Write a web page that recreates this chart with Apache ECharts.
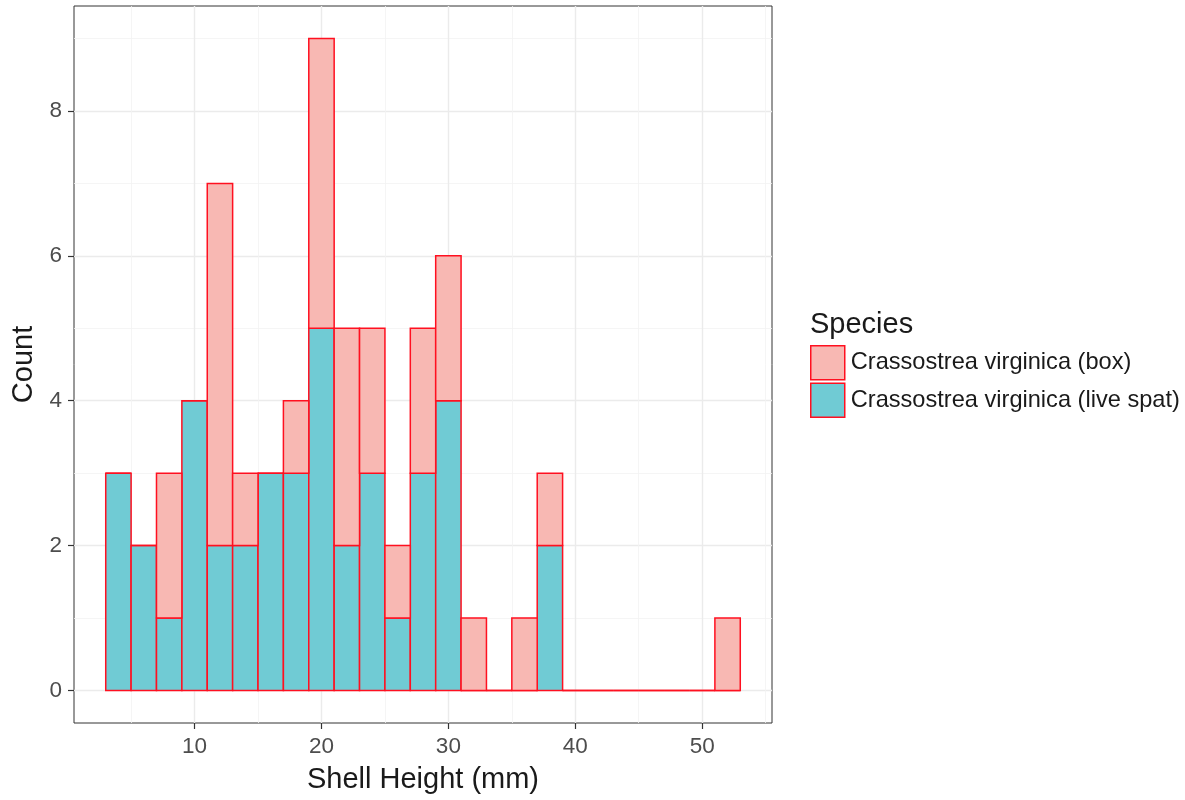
<!DOCTYPE html>
<html>
<head>
<meta charset="utf-8">
<script src="https://cdn.jsdelivr.net/npm/echarts@6/dist/echarts.min.js"></script>
<style>html,body{margin:0;padding:0;background:#fff;}#chart{width:1185px;height:800px;}</style>
</head>
<body>
<div id="chart"></div>
<script>
// Histogram bins (lower edges, width 2 mm)
const binLow = [3,5,7,9,11,13,15,17,19,21,23,25,27,29,31,33,35,37,39,41,43,45,47,49,51];
const binWidth = 2;
const liveSpat = [3,2,1,4,2,2,3,3,5,2,3,1,3,4,0,0,0,2,0,0,0,0,0,0,0];
const box      = [0,0,2,0,5,1,0,1,4,3,2,1,2,2,1,0,1,1,0,0,0,0,0,0,1];
const seriesNames = ['Crassostrea virginica (box)', 'Crassostrea virginica (live spat)'];
const xMajorTicks = [10,20,30,40,50];
const xMinorTicks = [5,15,25,35,45,55];
const yMajorTicks = [0,2,4,6,8];
const yMinorTicks = [1,3,5,7,9];

const FONT = '"Liberation Sans", Arial, Helvetica, sans-serif';
const PINK = '#F8B8B3';
const TEAL = '#70CBD4';
const RED = '#FF1020';

const liveData = binLow.map((x, i) => [x, x + binWidth, 0, liveSpat[i]]);
const boxData = binLow.map((x, i) => [x, x + binWidth, liveSpat[i], liveSpat[i] + box[i]]);

function makeRender(fill) {
  return function (params, api) {
    const p0 = api.coord([api.value(0), api.value(2)]);
    const p1 = api.coord([api.value(1), api.value(3)]);
    return {
      type: 'rect',
      shape: { x: p0[0], y: p1[1], width: p1[0] - p0[0], height: p0[1] - p1[1] },
      style: { fill: fill, stroke: RED, lineWidth: 1.5 }
    };
  };
}

const chart = echarts.init(document.getElementById('chart'), null, { renderer: 'canvas' });
chart.setOption({
  animation: false,
  backgroundColor: '#ffffff',
  textStyle: { fontFamily: FONT },
  title: {
    text: 'Species', left: 810, top: 310, padding: 0,
    textStyle: { fontSize: 29, fontWeight: 'normal', color: '#1a1a1a', fontFamily: FONT }
  },
  legend: {
    orient: 'vertical', left: 810, top: 345, padding: 0,
    itemWidth: 34, itemHeight: 34, itemGap: 2, icon: 'rect',
    data: seriesNames,
    itemStyle: { borderColor: RED, borderWidth: 1.5 },
    textStyle: { fontSize: 23.6, color: '#1a1a1a', fontFamily: FONT, padding: [0, 0, 0, 1] }
  },
  grid: {
    left: 74, right: 413, top: 6, bottom: 77,
    show: true, borderColor: '#333', borderWidth: 1, backgroundColor: '#fff'
  },
  xAxis: [{
    type: 'value', min: 0.5, max: 55.5,
    name: 'Shell Height (mm)', nameLocation: 'middle', nameGap: 42,
    nameTextStyle: { fontSize: 29, color: '#1a1a1a', fontFamily: FONT },
    axisLine: { show: false, onZero: false },
    axisTick: { show: true, length: 6, lineStyle: { color: '#333', width: 1.2 }, customValues: xMajorTicks },
    axisLabel: { fontSize: 22.5, color: '#4D4D4D', margin: 12, customValues: xMajorTicks, fontFamily: FONT },
    splitLine: { show: true, lineStyle: { color: '#EBEBEB', width: 1.4 } }
  }, {
    type: 'value', min: 0.5, max: 55.5, position: 'top',
    axisLine: { show: false, onZero: false },
    axisTick: { show: false, customValues: xMinorTicks },
    axisLabel: { show: false },
    splitLine: { show: true, lineStyle: { color: '#F3F3F3', width: 0.8 } }
  }],
  yAxis: [{
    type: 'value', min: -0.45, max: 9.45,
    name: 'Count', nameLocation: 'middle', nameGap: 36, nameRotate: 90,
    nameTextStyle: { fontSize: 29, color: '#1a1a1a', fontFamily: FONT },
    axisLine: { show: false, onZero: false },
    axisTick: { show: true, length: 6, lineStyle: { color: '#333', width: 1.2 }, customValues: yMajorTicks },
    axisLabel: { fontSize: 22.5, color: '#4D4D4D', margin: 12, customValues: yMajorTicks, fontFamily: FONT },
    splitLine: { show: true, lineStyle: { color: '#EBEBEB', width: 1.4 } }
  }, {
    type: 'value', min: -0.45, max: 9.45, position: 'right',
    axisLine: { show: false, onZero: false },
    axisTick: { show: false, customValues: yMinorTicks },
    axisLabel: { show: false },
    splitLine: { show: true, lineStyle: { color: '#F3F3F3', width: 0.8 } }
  }],
  series: [{
    name: seriesNames[1], type: 'custom', xAxisIndex: 0, yAxisIndex: 0,
    itemStyle: { color: TEAL, borderColor: RED, borderWidth: 1.5 },
    renderItem: makeRender(TEAL),
    encode: { x: [0, 1], y: [2, 3] },
    data: liveData
  }, {
    name: seriesNames[0], type: 'custom', xAxisIndex: 0, yAxisIndex: 0,
    itemStyle: { color: PINK, borderColor: RED, borderWidth: 1.5 },
    renderItem: makeRender(PINK),
    encode: { x: [0, 1], y: [2, 3] },
    data: boxData
  }]
});
</script>
</body>
</html>
